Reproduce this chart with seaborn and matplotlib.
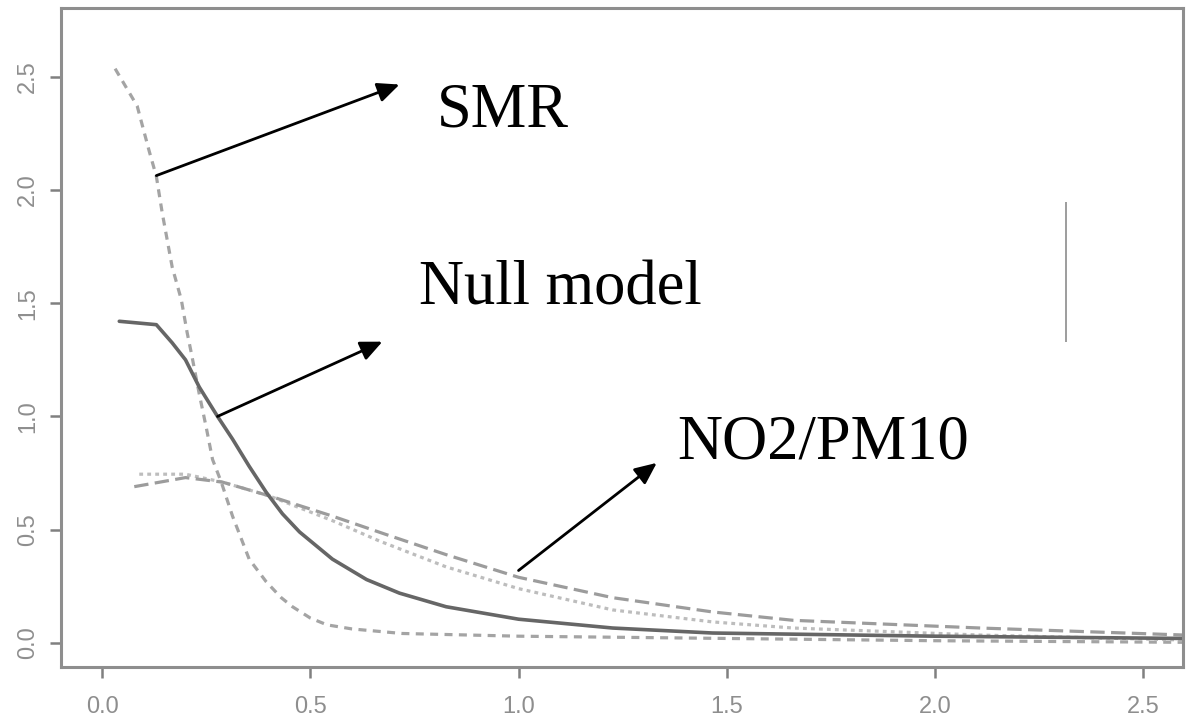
import matplotlib
matplotlib.use("Agg")
import matplotlib.pyplot as plt
import seaborn as sns
import pandas as pd

# Fitted curves (distance on x, estimated value on y)
smr_x = [0.031, 0.084, 0.113, 0.13, 0.144, 0.168, 0.19, 0.204, 0.214, 0.233, 0.25,
         0.265, 0.286, 0.313, 0.353, 0.394, 0.43, 0.457, 0.5, 0.54, 0.6, 0.72, 1.0, 1.5, 2.0, 2.6]
smr_y = [2.535, 2.37, 2.17, 2.06, 1.90, 1.66, 1.515, 1.37, 1.28, 1.10, 0.95,
         0.81, 0.71, 0.56, 0.37, 0.27, 0.20, 0.16, 0.11, 0.08, 0.062, 0.042, 0.03, 0.02, 0.01, 0.003]

null_x = [0.041, 0.13, 0.168, 0.2, 0.233, 0.277, 0.313, 0.353, 0.394, 0.433, 0.474,
          0.553, 0.635, 0.714, 0.826, 1.0, 1.226, 1.466, 2.0, 2.6]
null_y = [1.42, 1.405, 1.325, 1.25, 1.13, 1.0, 0.90, 0.78, 0.665, 0.57, 0.49,
          0.37, 0.28, 0.22, 0.16, 0.105, 0.066, 0.044, 0.03, 0.02]

no2_dash_x = [0.077, 0.2, 0.289, 0.40, 0.553, 0.68, 0.826, 1.0, 1.226, 1.466, 1.66, 2.11, 2.6]
no2_dash_y = [0.69, 0.73, 0.71, 0.65, 0.56, 0.48, 0.39, 0.29, 0.20, 0.137, 0.10, 0.066, 0.035]

no2_dot_x = [0.089, 0.2, 0.289, 0.40, 0.553, 0.666, 0.826, 1.0, 1.226, 1.466, 1.66, 2.11, 2.6]
no2_dot_y = [0.745, 0.745, 0.71, 0.65, 0.54, 0.45, 0.336, 0.24, 0.146, 0.093, 0.066, 0.035, 0.013]

# Short vertical segment on the right
vline_x = 2.315
vline_y = (1.33, 1.948)

# Labels: (text, text position, arrow tail, arrow head)
labels = ["SMR", "Null model", "NO2/PM10"]
label_pos = [(0.803, 2.279), (0.762, 1.493), (1.382, 0.813)]
arrow_tail = [(0.130, 2.063), (0.277, 1.0), (1.0, 0.32)]
arrow_head = [(0.714, 2.465), (0.673, 1.33), (1.332, 0.795)]

xticks = [0.0, 0.5, 1.0, 1.5, 2.0, 2.5]
yticks = [0.0, 0.5, 1.0, 1.5, 2.0, 2.5]

sns.set_theme(style="white")
plt.rcParams["font.family"] = ["Liberation Sans", "DejaVu Sans"]

fig = plt.figure(figsize=(11.9, 7.23), dpi=100)
ax = fig.add_axes([61 / 1190, 1 - 667 / 723, (1183 - 61) / 1190, (667 - 7.5) / 723])

def frame(x, y):
    return pd.DataFrame({"x": x, "y": y})

sns.lineplot(data=frame(smr_x, smr_y), x="x", y="y", sort=False, ax=ax,
             color="#a4a4a4", lw=2.3, linestyle=(0, (2.5, 2.0)))
sns.lineplot(data=frame(no2_dot_x, no2_dot_y), x="x", y="y", sort=False, ax=ax,
             color="#bdbdbd", lw=2.3, linestyle=(0, (1.2, 1.3)))
sns.lineplot(data=frame(no2_dash_x, no2_dash_y), x="x", y="y", sort=False, ax=ax,
             color="#9c9c9c", lw=2.3, linestyle=(0, (4.5, 2.0)))
sns.lineplot(data=frame(null_x, null_y), x="x", y="y", sort=False, ax=ax,
             color="#666666", lw=2.6)

ax.vlines(vline_x, vline_y[0], vline_y[1], color="#8c8c8c", lw=1.2)

for txt, pos, tail, head in zip(labels, label_pos, arrow_tail, arrow_head):
    ax.annotate("", xy=head, xytext=tail,
                arrowprops=dict(arrowstyle="-|>,head_length=0.6,head_width=0.27",
                                color="black", lw=2.0, mutation_scale=22,
                                shrinkA=0, shrinkB=0))
    ax.text(pos[0], pos[1], txt, fontsize=45, family=["Liberation Serif", "DejaVu Serif"],
            color="black", ha="left", va="baseline")

ax.set_xlim(-0.099, 2.596)
ax.set_ylim(-0.106, 2.805)
ax.set_xticks(xticks)
ax.set_xticklabels([f"{v:.1f}" for v in xticks])
ax.set_yticks(yticks)
ax.set_yticklabels([f"{v:.1f}" for v in yticks], rotation=90, va="center")
ax.set_xlabel("")
ax.set_ylabel("")

for side in ["left", "right", "top", "bottom"]:
    ax.spines[side].set_visible(True)
    ax.spines[side].set_color("#8e8e8e")
    ax.spines[side].set_linewidth(2.2)

ax.tick_params(axis="both", which="major", direction="out", length=8, width=1.8,
               color="#808080", labelsize=17, labelcolor="#8e8e8e")
ax.tick_params(axis="x", pad=13, bottom=True)
ax.tick_params(axis="y", pad=8, left=True)
ax.grid(False)

fig.savefig("out.png", dpi=100, facecolor="white")
